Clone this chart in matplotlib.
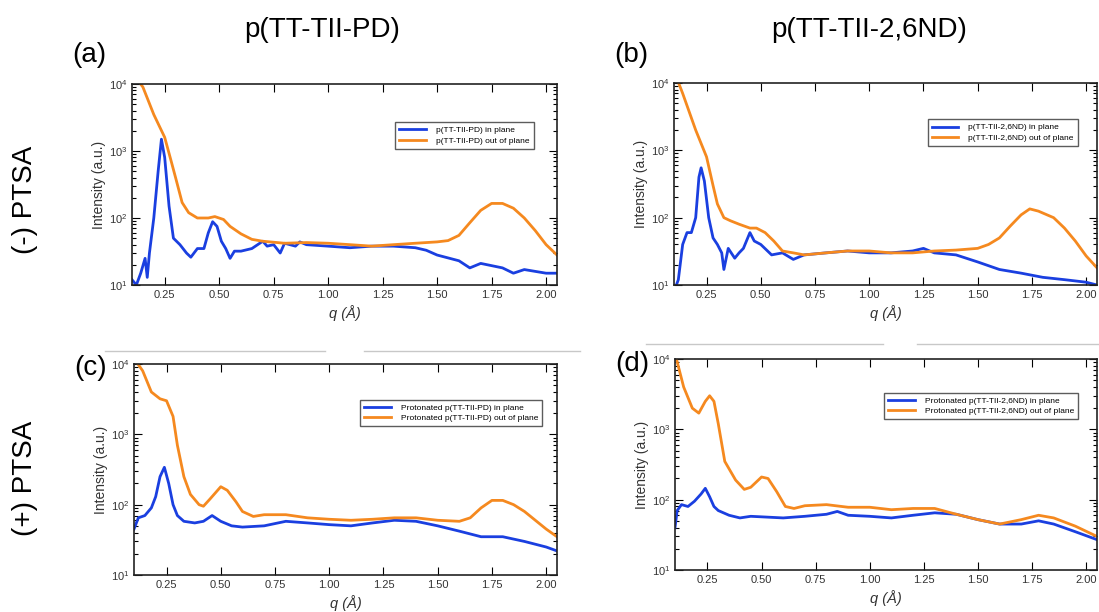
import matplotlib
matplotlib.use("Agg")
import matplotlib.pyplot as plt
from matplotlib.lines import Line2D
from matplotlib.ticker import LogLocator, FixedLocator, FormatStrFormatter, NullFormatter

plt.rcParams['font.family'] = ['Liberation Sans', 'DejaVu Sans']

# ================= data =================
# (a) p(TT-TII-PD), no PTSA
a_in_q = [0.10, 0.12, 0.14, 0.16, 0.17, 0.18, 0.20, 0.22, 0.235, 0.25, 0.27, 0.29, 0.32, 0.35,
          0.37, 0.40, 0.43, 0.45, 0.47, 0.49, 0.51, 0.53, 0.55, 0.57, 0.60, 0.65, 0.70, 0.72,
          0.75, 0.78, 0.80, 0.85, 0.87, 0.90, 1.00, 1.10, 1.20, 1.30, 1.40, 1.45, 1.50, 1.60,
          1.65, 1.70, 1.80, 1.85, 1.90, 2.00, 2.05]
a_in_I = [12, 10, 15, 25, 13, 30, 100, 500, 1500, 800, 150, 50, 40, 30,
          26, 35, 35, 60, 88, 75, 45, 35, 25, 32, 32, 35, 45, 38,
          40, 30, 42, 38, 44, 40, 38, 36, 38, 38, 36, 33, 28, 23,
          18, 21, 18, 15, 17, 15, 15]
a_out_q = [0.10, 0.15, 0.20, 0.25, 0.28, 0.30, 0.33, 0.36, 0.40, 0.45, 0.48, 0.52, 0.55, 0.60,
           0.65, 0.70, 0.80, 0.90, 1.00, 1.10, 1.20, 1.30, 1.40, 1.50, 1.55, 1.60, 1.65, 1.70,
           1.75, 1.80, 1.85, 1.90, 1.95, 2.00, 2.05]
a_out_I = [15000, 9000, 3500, 1600, 700, 400, 170, 120, 100, 100, 105, 95, 75, 58,
           48, 45, 42, 43, 42, 40, 38, 40, 42, 44, 46, 55, 85, 130,
           165, 165, 140, 100, 65, 40, 28]

# (b) p(TT-TII-2,6ND), no PTSA
b_in_q = [0.10, 0.12, 0.14, 0.16, 0.18, 0.20, 0.215, 0.225, 0.24, 0.26, 0.28, 0.30, 0.32, 0.33,
          0.35, 0.38, 0.40, 0.42, 0.45, 0.47, 0.50, 0.55, 0.60, 0.65, 0.70, 0.80, 0.90, 1.00,
          1.10, 1.20, 1.25, 1.30, 1.40, 1.50, 1.60, 1.70, 1.80, 1.90, 2.00, 2.05]
b_in_I = [8, 12, 40, 60, 60, 100, 400, 550, 350, 100, 50, 40, 30, 17,
          35, 25, 30, 35, 60, 45, 40, 28, 30, 24, 28, 30, 32, 30,
          30, 32, 35, 30, 28, 22, 17, 15, 13, 12, 11, 10]
b_out_q = [0.10, 0.14, 0.20, 0.25, 0.28, 0.30, 0.33, 0.36, 0.40, 0.45, 0.48, 0.52, 0.56, 0.60,
           0.65, 0.70, 0.80, 0.90, 1.00, 1.10, 1.20, 1.30, 1.40, 1.50, 1.55, 1.60, 1.65, 1.70,
           1.74, 1.78, 1.85, 1.90, 1.95, 2.00, 2.05]
b_out_I = [15000, 7000, 2000, 800, 300, 160, 100, 90, 80, 70, 70, 60, 45, 32,
           30, 28, 30, 32, 32, 30, 30, 32, 33, 35, 40, 50, 75, 110,
           135, 125, 100, 70, 45, 27, 18]

# (c) protonated p(TT-TII-PD)
c_in_q = [0.10, 0.12, 0.15, 0.18, 0.20, 0.22, 0.24, 0.26, 0.28, 0.30, 0.33, 0.38, 0.42, 0.46,
          0.50, 0.55, 0.60, 0.70, 0.80, 0.90, 1.00, 1.10, 1.20, 1.30, 1.40, 1.50, 1.60, 1.70,
          1.80, 1.90, 2.00, 2.05]
c_in_I = [45, 65, 70, 90, 130, 250, 340, 200, 100, 70, 58, 55, 58, 70,
          58, 50, 48, 50, 58, 55, 52, 50, 55, 60, 58, 50, 42, 35,
          35, 30, 25, 22]
c_out_q = [0.10, 0.14, 0.18, 0.22, 0.25, 0.28, 0.30, 0.33, 0.36, 0.40, 0.42, 0.45, 0.50, 0.53,
           0.57, 0.60, 0.65, 0.70, 0.80, 0.90, 1.00, 1.10, 1.20, 1.30, 1.40, 1.50, 1.60, 1.65,
           1.70, 1.75, 1.80, 1.85, 1.90, 1.95, 2.00, 2.05]
c_out_I = [12000, 8000, 4000, 3200, 3000, 1800, 700, 250, 140, 100, 95, 120, 180, 160,
           110, 80, 68, 72, 72, 65, 62, 60, 62, 65, 65, 60, 58, 65,
           90, 115, 115, 100, 80, 60, 45, 35]

# (d) protonated p(TT-TII-2,6ND)
d_in_q = [0.10, 0.11, 0.13, 0.16, 0.19, 0.22, 0.24, 0.26, 0.28, 0.30, 0.35, 0.40, 0.45, 0.50,
          0.60, 0.70, 0.80, 0.85, 0.90, 1.00, 1.10, 1.20, 1.30, 1.40, 1.50, 1.60, 1.70, 1.78,
          1.85, 1.95, 2.05]
d_in_I = [40, 70, 85, 80, 95, 120, 145, 110, 80, 70, 60, 55, 58, 57,
          55, 58, 62, 68, 60, 58, 55, 60, 65, 62, 52, 45, 45, 50,
          45, 35, 27]
d_out_q = [0.10, 0.14, 0.18, 0.21, 0.24, 0.26, 0.28, 0.30, 0.33, 0.38, 0.42, 0.45, 0.50, 0.53,
           0.57, 0.61, 0.65, 0.70, 0.80, 0.90, 1.00, 1.10, 1.20, 1.30, 1.40, 1.50, 1.60, 1.70,
           1.78, 1.85, 1.95, 2.05]
d_out_I = [12000, 4000, 2000, 1700, 2500, 3000, 2500, 1200, 350, 190, 140, 150, 210, 200,
           130, 80, 75, 82, 85, 78, 78, 72, 75, 75, 62, 52, 45, 52,
           60, 55, 42, 30]

x_ticks = [0.25, 0.50, 0.75, 1.00, 1.25, 1.50, 1.75, 2.00]

panels = [
    # letter, in-plane, out-of-plane, legend labels, box in pixels, legend anchor, letter y
    ("(a)", (a_in_q, a_in_I), (a_out_q, a_out_I),
     ["p(TT-TII-PD) in plane", "p(TT-TII-PD) out of plane"], (132, 84, 557, 285), (0.955, 0.83), 55),
    ("(b)", (b_in_q, b_in_I), (b_out_q, b_out_I),
     ["p(TT-TII-2,6ND) in plane", "p(TT-TII-2,6ND) out of plane"], (674, 83, 1097, 285), (0.965, 0.84), 55),
    ("(c)", (c_in_q, c_in_I), (c_out_q, c_out_I),
     ["Protonated p(TT-TII-PD) in plane", "Protonated p(TT-TII-PD) out of plane"], (134, 364, 557, 575), (0.975, 0.85), 368),
    ("(d)", (d_in_q, d_in_I), (d_out_q, d_out_I),
     ["Protonated p(TT-TII-2,6ND) in plane", "Protonated p(TT-TII-2,6ND) out of plane"], (675, 359, 1097, 570), (0.965, 0.86), 364),
]

W, H = 1099, 612
BLUE = "#1a3fe0"
ORANGE = "#f5891f"

fig = plt.figure(figsize=(W / 100, H / 100), dpi=100)

for letter, (qi, Ii), (qo, Io), labels, (x0, y0, x1, y1), anchor, ly in panels:
    ax = fig.add_axes([x0 / W, 1 - y1 / H, (x1 - x0) / W, (y1 - y0) / H])
    ax.plot(qi, Ii, color=BLUE, lw=2, label=labels[0])
    ax.plot(qo, Io, color=ORANGE, lw=2, label=labels[1])
    ax.set_yscale("log")
    ax.set_xlim(0.1, 2.05)
    ax.set_ylim(10, 1e4)
    ax.xaxis.set_major_locator(FixedLocator(x_ticks))
    ax.xaxis.set_major_formatter(FormatStrFormatter("%.2f"))
    ax.yaxis.set_major_locator(LogLocator(base=10, numticks=10))
    ax.yaxis.set_minor_locator(LogLocator(base=10, subs=range(2, 10), numticks=10))
    ax.yaxis.set_minor_formatter(NullFormatter())
    ax.tick_params(which="both", direction="in", top=True, right=True, labelsize=8,
                   labelcolor="#333333", width=0.8)
    ax.tick_params(which="major", length=6)
    ax.tick_params(which="minor", length=3)
    for s in ax.spines.values():
        s.set_linewidth(1.2)
        s.set_color("#222222")
    ax.set_ylabel("Intensity (a.u.)", fontsize=10, color="#333333", labelpad=2)
    ax.set_xlabel("q (Å)", fontsize=10.5, style="italic", color="#333333", labelpad=4)
    ax.legend(loc="upper right", bbox_to_anchor=anchor, fontsize=6, frameon=True, fancybox=False,
              edgecolor="#333333", handlelength=3.2, borderpad=0.5, labelspacing=0.3,
              handletextpad=1.2)
    fig.text((x0 - 60) / W, 1 - ly / H, letter, fontsize=20, ha="left", va="center")

# column and row headings
fig.text(322 / W, 1 - 30 / H, "p(TT-TII-PD)", fontsize=20, ha="center", va="center")
fig.text(869 / W, 1 - 30 / H, "p(TT-TII-2,6ND)", fontsize=20, ha="center", va="center")
fig.text(25 / W, 1 - 200 / H, "(-) PTSA", fontsize=20, ha="center", va="center", rotation=90)
fig.text(25 / W, 1 - 478 / H, "(+) PTSA", fontsize=20, ha="center", va="center", rotation=90)

# faint separator remnants above the lower panels
for (xa, xb, yy) in [(105, 325, 351), (364, 580, 351), (646, 883, 344), (917, 1099, 344)]:
    fig.add_artist(Line2D([xa / W, xb / W], [1 - yy / H, 1 - yy / H], color="#c8c8c8", lw=1))

fig.savefig("out.png", dpi=100)
